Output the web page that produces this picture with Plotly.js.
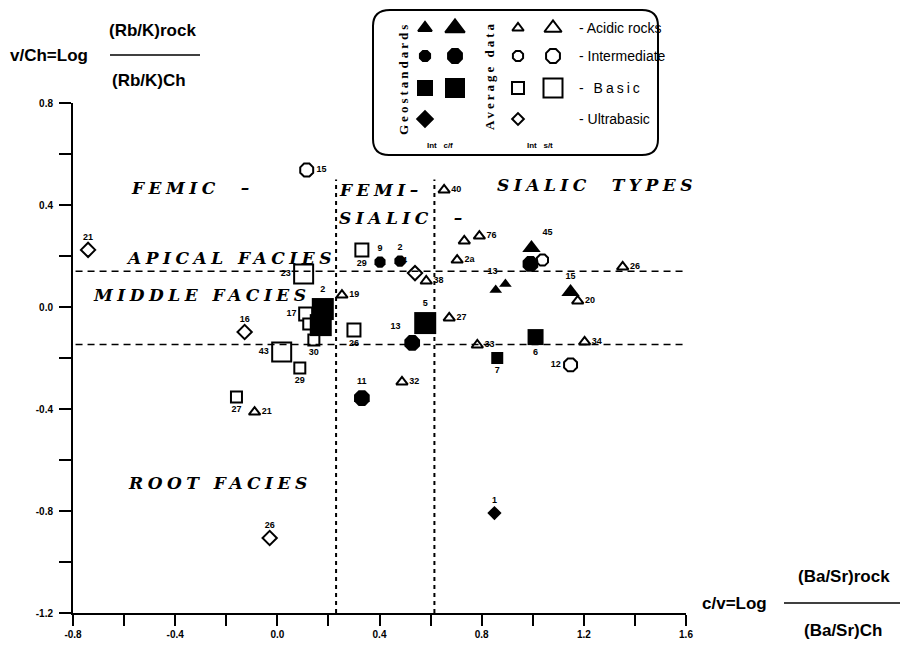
<!DOCTYPE html>
<html><head><meta charset="utf-8">
<script src="https://cdn.plot.ly/plotly-3.0.1.min.js"></script>
<style>html,body{margin:0;padding:0;background:#fff}#chart{width:900px;height:653px}</style>
</head><body><div id="chart"></div>
<script>
// ---------------- DATA ----------------
// Geostandards (filled symbols)
const geoAcidX = [0.995, 0.855, 0.893, 1.148];
const geoAcidY = [0.231, 0.067, 0.090, 0.059];
const geoAcidLab = ["45", "", "13", "15"];
const geoAcidCls = ["L", "S", "S", "L"];

const geoInterX = [0.402, 0.480, 0.528, 0.331, 0.991];
const geoInterY = [0.176, 0.180, -0.141, -0.357, 0.169];
const geoInterLab = ["9", "2", "13", "11", ""];
const geoInterCls = ["S", "S", "L", "L", "L"];

const geoBasicX = [0.178, 0.170, 0.579, 1.011, 0.861];
const geoBasicY = [-0.008, -0.071, -0.063, -0.118, -0.200];
const geoBasicLab = ["2", "", "5", "6", "7"];
const geoBasicCls = ["L", "L", "L", "M", "S"];

const geoUltraX = [0.850];
const geoUltraY = [-0.808];
const geoUltraLab = ["1"];
const geoUltraCls = ["S"];

// Average data (open symbols)
const avgAcidX = [0.653, 0.732, 0.791, 0.704, 0.583, 1.176, 1.352, 0.253, 0.673, 0.783, 1.203, 0.488, -0.089];
const avgAcidY = [0.459, 0.259, 0.278, 0.184, 0.102, 0.024, 0.157, 0.047, -0.043, -0.149, -0.137, -0.294, -0.412];
const avgAcidLab = ["40", "", "76", "2a", "38", "20", "26", "19", "27", "33", "34", "32", "21"];
const avgAcidCls = ["S", "S", "S", "S", "S", "S", "S", "S", "S", "S", "S", "S", "S"];

const avgInterX = [0.115, 1.038, 1.148];
const avgInterY = [0.537, 0.184, -0.227];
const avgInterLab = ["15", "", "12"];
const avgInterCls = ["M", "S", "M"];

const avgBasicX = [0.103, 0.331, 0.111, 0.123, 0.143, 0.300, 0.017, 0.088, -0.160];
const avgBasicY = [0.129, 0.224, -0.027, -0.067, -0.129, -0.090, -0.176, -0.239, -0.353];
const avgBasicLab = ["23", "29", "17", "", "30", "26", "43", "29", "27"];
const avgBasicCls = ["L", "M", "M", "S", "S", "M", "L", "S", "S"];

const avgUltraX = [-0.741, -0.128, -0.030, 0.539];
const avgUltraY = [0.224, -0.098, -0.906, 0.133];
const avgUltraLab = ["21", "16", "26", "14"];
const avgUltraCls = ["S", "S", "S", "S"];

// Boundaries of facies (y) and types (x)
const faciesBounds = [0.14, -0.147];
const typeBounds = [0.23, 0.615];
const typeBoundTop = 0.5;

// Axes
const xRange = [-0.8, 1.6];
const yRange = [-1.2, 0.8];
const xTickVals = [-0.8, -0.4, 0.0, 0.4, 0.8, 1.2, 1.6];
const xTickText = ["-0.8", "-0.4", "0.0", "0.4", "0.8", "1.2", "1.6"];
const yTickVals = [-1.2, -0.8, -0.4, 0.0, 0.4, 0.8];
const yTickText = ["-1.2", "-0.8", "-0.4", "0.0", "0.4", "0.8"];

// Region texts
const regionTexts = ["FEMIC  \u2013", "FEMI\u2013", "SIALIC  \u2013", "SIALIC  TYPES", "APICAL FACIES", "MIDDLE FACIES", "ROOT FACIES"];
const regionX = [-0.580, 0.233, 0.233, 0.854, -0.600, -0.729, -0.592];
const regionY = [0.467, 0.459, 0.349, 0.478, 0.192, 0.047, -0.690];

// Legend
const legendNames = ["- Acidic rocks", "- Intermediate", "- Basic", "- Ultrabasic"];

// ---------------- LAYOUT HELPERS ----------------
const W = 900, H = 653;
const pL = 73, pR = 686, pT = 103, pB = 613;

// label positions per series
const geoAcidPos = ["top right", "top left", "top left", "top center"];
const geoInterPos = ["top center", "top center", "top left", "top center", "top center"];
const geoBasicPos = ["top center", "top center", "top center", "bottom center", "bottom center"];
const geoUltraPos = ["top center"];
const avgAcidPos = ["middle right","middle right","middle right","middle right","middle right","middle right","middle right","middle right","middle right","middle right","middle right","middle right","middle right"];
const avgInterPos = ["middle right", "middle right", "middle left"];
const avgBasicPos = ["middle left", "bottom center", "middle left", "middle left", "bottom center", "bottom center", "middle left", "bottom center", "bottom center"];
const avgUltraPos = ["top center", "top center", "top center", "top left"];

const sizeMaps = {
  tri: {S: 11, M: 13, L: 16},
  triOpen: {S: 10, M: 12, L: 15},
  oct: {S: 12, M: 14, L: 17},
  sq: {S: 12, M: 16, L: 22},
  sqOpen: {S: 11, M: 13, L: 19},
  dia: {S: 11, M: 12, L: 14}
};

const labFont = {family: "Liberation Sans", size: 9, color: "#000", weight: "bold"};

function mk(x, y, lab, cls, pos, symbol, map, open) {
  return {
    type: "scatter", mode: "markers+text", x: x, y: y, text: lab,
    textposition: pos, textfont: labFont, cliponaxis: false, hoverinfo: "skip",
    marker: {
      symbol: symbol, color: open ? "#fff" : "#000", opacity: 1,
      size: cls.map(c => sizeMaps[map][c]),
      line: {color: "#000", width: open ? 2 : 0}
    },
    showlegend: false, xaxis: "x", yaxis: "y"
  };
}

const traces = [
  mk(avgBasicX, avgBasicY, avgBasicLab, avgBasicCls, avgBasicPos, "square", "sqOpen", true),
  mk(avgUltraX, avgUltraY, avgUltraLab, avgUltraCls, avgUltraPos, "diamond", "dia", true),
  mk(avgAcidX, avgAcidY, avgAcidLab, avgAcidCls, avgAcidPos, "triangle-up", "triOpen", true),
  mk(avgInterX, avgInterY, avgInterLab, avgInterCls, avgInterPos, "octagon", "oct", true),
  mk(geoBasicX, geoBasicY, geoBasicLab, geoBasicCls, geoBasicPos, "square", "sq", false),
  mk(geoInterX, geoInterY, geoInterLab, geoInterCls, geoInterPos, "octagon", "oct", false),
  mk(geoAcidX, geoAcidY, geoAcidLab, geoAcidCls, geoAcidPos, "triangle-up", "tri", false),
  mk(geoUltraX, geoUltraY, geoUltraLab, geoUltraCls, geoUltraPos, "diamond", "dia", false)
];

// Legend markers (pixel frame on x2/y2)
const legRows = [28, 56, 88, 119];
const legCols = [425, 455, 518, 553];
const legSym = [
  ["triangle-up", "triangle-up", "triangle-up-open", "triangle-up-open"],
  ["octagon", "octagon", "octagon-open", "octagon-open"],
  ["square", "square", "square-open", "square-open"],
  ["diamond", null, "diamond-open", null]
];
const legSize = [[12, 17, 10, 15], [11, 15, 11, 15], [14, 18, 12, 19], [12, 0, 9, 0]];
const lx = [], ly = [], ls = [], lz = [];
legSym.forEach((row, r) => row.forEach((s, c) => {
  if (s) { lx.push(legCols[c]); ly.push(legRows[r]); ls.push(s); lz.push(legSize[r][c]); }
}));
traces.push({
  type: "scatter", mode: "markers", x: lx, y: ly, xaxis: "x2", yaxis: "y2",
  hoverinfo: "skip", showlegend: false, cliponaxis: false,
  marker: {symbol: ls, size: lz, color: "#000", opacity: 1, line: {color: "#000", width: 2}}
});

const shapes = [];
faciesBounds.forEach(v => shapes.push({type: "line", xref: "x", yref: "y", x0: -0.79, x1: 1.6, y0: v, y1: v,
  line: {color: "#000", width: 1.6, dash: "7px,5px"}}));
typeBounds.forEach(v => shapes.push({type: "line", xref: "x", yref: "y", x0: v, x1: v, y0: yRange[0], y1: typeBoundTop,
  line: {color: "#000", width: 2, dash: "4px,4px"}}));
// legend box (pixel frame)
shapes.push({type: "path", xref: "x2", yref: "y2",
  path: "M 390,10 L 642,10 Q 658,10 658,26 L 658,139 Q 658,155 642,155 L 389,155 Q 373,155 373,139 L 373,26 Q 373,10 390,10 Z",
  line: {color: "#000", width: 2}, fillcolor: "rgba(0,0,0,0)"});
// fraction bars of the axis titles
shapes.push({type: "line", xref: "x2", yref: "y2", x0: 110, x1: 200, y0: 55, y1: 55, line: {color: "#000", width: 1.5}});
shapes.push({type: "line", xref: "x2", yref: "y2", x0: 784, x1: 900, y0: 603, y1: 603, line: {color: "#000", width: 1.5}});

const annotations = [];
const regFont = {family: "DejaVu Serif", size: 17, color: "#000", weight: "bold", style: "italic"};
regionTexts.forEach((t, i) => annotations.push({
  xref: "x", yref: "y", x: regionX[i], y: regionY[i], xanchor: "left", yanchor: "middle",
  text: '<span style="letter-spacing:4.5px">' + t + '</span>', showarrow: false, font: regFont
}));
const titleFont = {family: "Liberation Sans", size: 17, color: "#000", weight: "bold"};
function pa(x, y, text, font, xanchor, extra) {
  annotations.push(Object.assign({xref: "x2", yref: "y2", x: x, y: y, text: text, showarrow: false,
    font: font, xanchor: xanchor || "center", yanchor: "middle"}, extra || {}));
}
pa(152, 30, "(Rb/K)rock", titleFont);
pa(8, 55, "v/Ch=Log", titleFont, "left");
pa(149, 80, "(Rb/K)Ch", titleFont);
pa(844, 576, "(Ba/Sr)rock", titleFont);
pa(700, 603, "c/v=Log", titleFont, "left");
pa(843, 630, "(Ba/Sr)Ch", titleFont);

const legFont = {family: "Liberation Sans", size: 14, color: "#000"};
legendNames.forEach((t, i) => {
  const txt = i === 2 ? '<span style="letter-spacing:3px">' + t + '</span>' : t;
  pa(577, legRows[i], txt, legFont, "left");
});
const vFont = {family: "Liberation Serif", size: 13, color: "#000", weight: "bold"};
pa(403, 79, '<span style="letter-spacing:3px">Geostandards</span>', vFont, "center", {textangle: -90});
pa(489, 76, '<span style="letter-spacing:3px">Average data</span>', vFont, "center", {textangle: -90});
const smallFont = {family: "Liberation Sans", size: 8, color: "#000", weight: "bold"};
pa(440, 145, "Int &nbsp; c/f", smallFont);
pa(540, 145, "Int &nbsp; s/t", smallFont);

function minorVals(r) { const a = []; for (let v = Math.round(r[0] * 10); v <= Math.round(r[1] * 10); v += 2) a.push(v / 10); return a; }
const tickFont = {family: "Liberation Sans", size: 10, color: "#000", weight: "bold"};
const layout = {
  width: W, height: H, margin: {l: 0, r: 0, t: 0, b: 0},
  paper_bgcolor: "#fff", plot_bgcolor: "rgba(0,0,0,0)",
  showlegend: false,
  xaxis: {domain: [pL / W, pR / W], range: xRange, showgrid: false, zeroline: false,
    showline: true, linecolor: "#000", linewidth: 2, ticks: "outside", ticklen: 11, tickwidth: 2, tickcolor: "#000",
    tickmode: "array", tickvals: xTickVals, ticktext: xTickText, tickfont: tickFont,
    minor: {tickmode: "array", tickvals: minorVals(xRange), ticks: "outside", ticklen: 11, tickwidth: 2, tickcolor: "#000", showgrid: false},
    anchor: "y", fixedrange: true},
  yaxis: {domain: [1 - pB / H, 1 - pT / H], range: yRange, showgrid: false, zeroline: false,
    showline: true, linecolor: "#000", linewidth: 2, ticks: "outside", ticklen: 12, tickwidth: 2, tickcolor: "#000",
    tickmode: "array", tickvals: yTickVals, ticktext: yTickText, tickfont: tickFont, ticklabelstandoff: 4,
    minor: {tickmode: "array", tickvals: minorVals(yRange), ticks: "outside", ticklen: 12, tickwidth: 2, tickcolor: "#000", showgrid: false},
    anchor: "x", fixedrange: true},
  xaxis2: {domain: [0, 1], range: [0, W], visible: false, anchor: "y2", fixedrange: true},
  yaxis2: {domain: [0, 1], range: [H, 0], visible: false, anchor: "x2", fixedrange: true},
  shapes: shapes, annotations: annotations
};
Plotly.newPlot("chart", traces, layout, {displayModeBar: false, staticPlot: true});
</script></body></html>
